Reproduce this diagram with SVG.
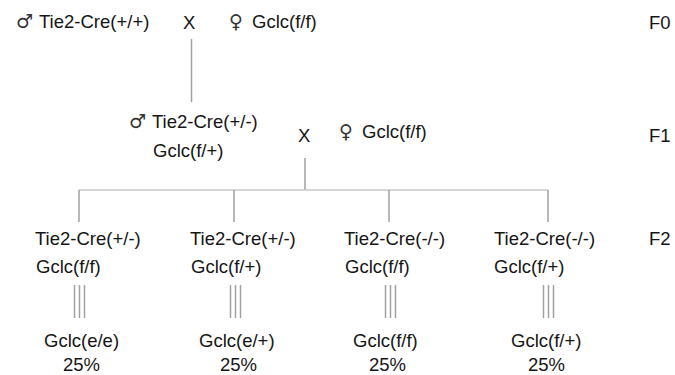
<svg xmlns="http://www.w3.org/2000/svg" width="675" height="375" viewBox="0 0 675 375">
<style>
text{font-family:"Liberation Sans",Arial,sans-serif;font-size:18.5px;fill:#151515}
.sym{font-family:"DejaVu Sans","Liberation Sans",sans-serif;font-size:19px;fill:#333}
.ln{stroke:#a0a0a0;stroke-width:1.5;fill:none}
.hl{stroke:#c8c8c8;stroke-width:1.5;fill:none}
</style>
<rect width="675" height="375" fill="#fff"/>
<g id="connectors">
<line class="ln" x1="191.5" y1="39" x2="191.5" y2="102"/>
<line class="ln" x1="305" y1="158" x2="305" y2="190"/>
<line class="hl" x1="79" y1="190" x2="548" y2="190"/>
<line class="ln" x1="79" y1="190" x2="79" y2="222"/>
<line class="ln" x1="234" y1="190" x2="234" y2="222"/>
<line class="ln" x1="389" y1="190" x2="389" y2="222"/>
<line class="ln" x1="548" y1="190" x2="548" y2="222"/>
<g id="triple1"><line class="ln" x1="74.5" y1="285" x2="74.5" y2="318"/><line class="ln" x1="79.5" y1="285" x2="79.5" y2="318"/><line class="ln" x1="84.5" y1="285" x2="84.5" y2="318"/></g>
<g id="triple2"><line class="ln" x1="230.5" y1="285" x2="230.5" y2="318"/><line class="ln" x1="235.5" y1="285" x2="235.5" y2="318"/><line class="ln" x1="240.5" y1="285" x2="240.5" y2="318"/></g>
<g id="triple3"><line class="ln" x1="385.5" y1="285" x2="385.5" y2="318"/><line class="ln" x1="390.5" y1="285" x2="390.5" y2="318"/><line class="ln" x1="395.5" y1="285" x2="395.5" y2="318"/></g>
<g id="triple4"><line class="ln" x1="543.5" y1="285" x2="543.5" y2="318"/><line class="ln" x1="548.5" y1="285" x2="548.5" y2="318"/><line class="ln" x1="553.5" y1="285" x2="553.5" y2="318"/></g>
</g>
<g id="f0-male"><text class="sym" x="16" y="28">♂</text><text x="39" y="28">Tie2-Cre(+/+)</text></g>
<g id="f0-cross"><text x="183" y="29">X</text></g>
<g id="f0-female"><text class="sym" x="229" y="28">♀</text><text x="252" y="28">Gclc(f/f)</text></g>
<g id="f1-male"><text class="sym" x="129" y="128">♂</text><text x="152" y="128">Tie2-Cre(+/-)</text><text x="153" y="157">Gclc(f/+)</text></g>
<g id="f1-cross"><text x="298" y="142">X</text></g>
<g id="f1-female"><text class="sym" x="339" y="138">♀</text><text x="362" y="138">Gclc(f/f)</text></g>
<g id="f2-1"><text x="35" y="245">Tie2-Cre(+/-)</text><text x="36" y="273">Gclc(f/f)</text><text x="44" y="347">Gclc(e/e)</text><text x="63" y="371">25%</text></g>
<g id="f2-2"><text x="190" y="245">Tie2-Cre(+/-)</text><text x="191" y="273">Gclc(f/+)</text><text x="199" y="347">Gclc(e/+)</text><text x="220" y="371">25%</text></g>
<g id="f2-3"><text x="344" y="245">Tie2-Cre(-/-)</text><text x="345" y="273">Gclc(f/f)</text><text x="353" y="347">Gclc(f/f)</text><text x="369" y="371">25%</text></g>
<g id="f2-4"><text x="494" y="245">Tie2-Cre(-/-)</text><text x="494" y="273">Gclc(f/+)</text><text x="511" y="347">Gclc(f/+)</text><text x="528" y="371">25%</text></g>
<g id="labels"><text x="649" y="29">F0</text><text x="649" y="142">F1</text><text x="649" y="245">F2</text></g>
</svg>
